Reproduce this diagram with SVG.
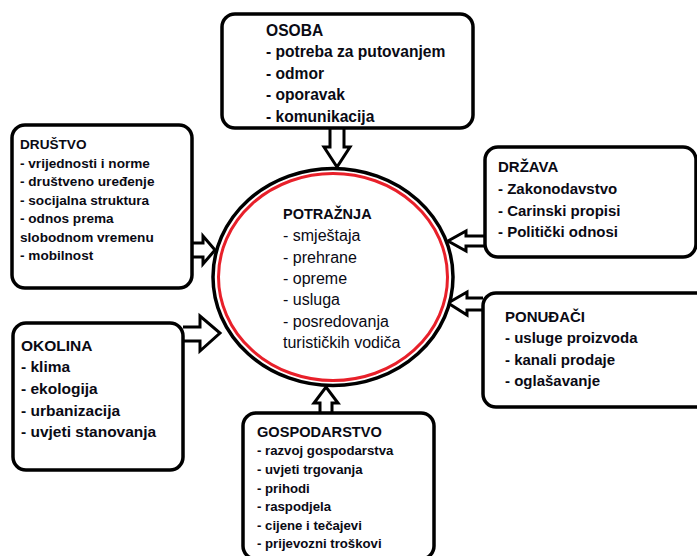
<svg xmlns="http://www.w3.org/2000/svg" width="697" height="556" viewBox="0 0 697 556">
<defs>
<style>
.box{fill:#fff;stroke:#000;stroke-width:3.5}
.arr{fill:#fff;stroke:#000;stroke-width:3;stroke-linejoin:miter}
text{font-family:"Liberation Sans",Arial,sans-serif;fill:#0a0a14}
.b{font-weight:bold}
</style>
</defs>
<rect width="697" height="556" fill="#fff"/>
<g id="connectors">
<path class="arr" d="M330,128 V147 H324 L337,167 L350,147 H344 V128"/>
<path class="arr" d="M192,243 H203 V236 L215,250 L203,264 V257 H192"/>
<path class="arr" d="M183,327 H200 V316 L220,333 L200,351 V341 H183"/>
<path class="arr" d="M485,236 H466 V231 L448,241 L466,251 V246 H485"/>
<path class="arr" d="M483,298 H467 V292 L448,303 L467,315 V310 H483"/>
<path class="arr" d="M320,413 V403 H314 L326,387 L338,403 H332 V413"/>
</g>
<g id="potraznja">
<ellipse cx="333" cy="277" rx="120" ry="108.5" fill="#fff" stroke="#000" stroke-width="3.5"/>
<ellipse cx="333" cy="277" rx="114.5" ry="103.5" fill="none" stroke="#e8202a" stroke-width="3"/>
<text x="283" y="219.3" class="b" font-size="14.5">POTRAŽNJA</text>
<g font-size="16">
<text x="283" y="241">- smještaja</text>
<text x="283" y="262.5">- prehrane</text>
<text x="283" y="283.5">- opreme</text>
<text x="283" y="305">- usluga</text>
<text x="283" y="326.7">- posredovanja</text>
<text x="283" y="348.3">turističkih vodiča</text>
</g>
</g>
<g id="osoba">
<rect class="box" x="222" y="14" width="251" height="114" rx="13"/>
<g class="b" font-size="15.6">
<text x="266" y="36">OSOBA</text>
<text x="266" y="57">- potreba za putovanjem</text>
<text x="266" y="78.5">- odmor</text>
<text x="266" y="100">- oporavak</text>
<text x="266" y="121.5">- komunikacija</text>
</g>
</g>
<g id="drustvo">
<rect class="box" x="12" y="125" width="180" height="163" rx="13"/>
<g class="b" font-size="13.6">
<text x="20" y="149">DRUŠTVO</text>
<text x="20" y="167.5">- vrijednosti i norme</text>
<text x="20" y="186">- društveno uređenje</text>
<text x="20" y="204.5">- socijalna struktura</text>
<text x="20" y="223">- odnos prema</text>
<text x="20" y="241.5">slobodnom vremenu</text>
<text x="20" y="260">- mobilnost</text>
</g>
</g>
<g id="okolina">
<rect class="box" x="13" y="323" width="170" height="147" rx="13"/>
<g class="b" font-size="15.5">
<text x="21" y="350.7">OKOLINA</text>
<text x="21" y="372.3">- klima</text>
<text x="21" y="394">- ekologija</text>
<text x="21" y="415.7">- urbanizacija</text>
<text x="21" y="437.3">- uvjeti stanovanja</text>
</g>
</g>
<g id="drzava">
<rect class="box" x="485" y="147" width="211" height="110" rx="13"/>
<g class="b" font-size="15">
<text x="498" y="172.3">DRŽAVA</text>
<text x="498" y="194">- Zakonodavstvo</text>
<text x="498" y="215.7">- Carinski propisi</text>
<text x="498" y="237.3">- Politički odnosi</text>
</g>
</g>
<g id="ponudaci">
<rect class="box" x="483" y="293" width="230" height="114" rx="13"/>
<g class="b" font-size="15">
<text x="505" y="321.7">PONUĐAČI</text>
<text x="505" y="343.3">- usluge proizvoda</text>
<text x="505" y="365">- kanali prodaje</text>
<text x="505" y="386">- oglašavanje</text>
</g>
</g>
<g id="gospodarstvo">
<rect class="box" x="243" y="413" width="191" height="146" rx="13"/>
<text x="257" y="436.7" class="b" font-size="14.6">GOSPODARSTVO</text>
<g class="b" font-size="13.2">
<text x="257" y="455.3">- razvoj gospodarstva</text>
<text x="257" y="474">- uvjeti trgovanja</text>
<text x="257" y="492.7">- prihodi</text>
<text x="257" y="511">- raspodjela</text>
<text x="257" y="530">- cijene i tečajevi</text>
<text x="257" y="548.3">- prijevozni troškovi</text>
</g>
</g>
</svg>
